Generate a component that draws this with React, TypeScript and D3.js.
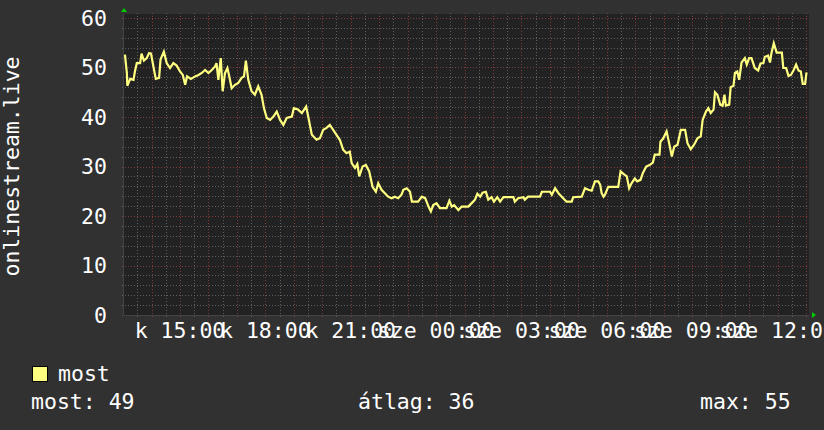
import React from 'react';
import * as d3 from 'd3';

// ---- data ----
// minutes after 13:00 (Tuesday) and viewer counts
const minutes = [4, 8, 9, 15, 22, 25, 29, 36, 39, 44, 50, 55, 59, 64, 69, 76, 79, 86, 92, 99, 106, 113, 120, 126, 131, 135, 143, 152, 159, 166, 173, 180, 187, 194, 197, 201, 206, 210, 215, 220, 224, 229, 236, 243, 250, 255, 259, 264, 271, 278, 285, 292, 297, 303, 310, 317, 324, 331, 338, 345, 356, 360, 369, 377, 386, 391, 398, 408, 415, 422, 429, 436, 443, 450, 457, 464, 471, 478, 482, 489, 494, 498, 505, 512, 519, 526, 533, 538, 545, 552, 559, 566, 573, 580, 587, 591, 598, 605, 609, 622, 630, 637, 644, 649, 654, 661, 668, 682, 688, 693, 698, 707, 714, 728, 735, 742, 747, 753, 758, 765, 770, 777, 782, 789, 795, 802, 823, 826, 833, 844, 847, 854, 879, 883, 900, 904, 911, 918, 928, 935, 946, 949, 967, 974, 981, 988, 995, 1002, 1006, 1009, 1013, 1016, 1023, 1044, 1049, 1055, 1062, 1067, 1072, 1079, 1084, 1091, 1096, 1103, 1110, 1117, 1121, 1131, 1133, 1139, 1146, 1152, 1157, 1162, 1169, 1176, 1185, 1190, 1197, 1204, 1211, 1218, 1222, 1229, 1234, 1239, 1245, 1248, 1253, 1259, 1264, 1268, 1271, 1278, 1281, 1287, 1290, 1295, 1299, 1304, 1311, 1315, 1320, 1325, 1332, 1339, 1344, 1350, 1353, 1360, 1364, 1367, 1372, 1378, 1389, 1392, 1398, 1403, 1408, 1414, 1419, 1424, 1429, 1433, 1438, 1441];
const viewers = [52.6, 48.9, 46.3, 47.7, 47.5, 49.2, 50.9, 50.9, 52.8, 51.4, 51.9, 52.9, 52.8, 50.2, 47.7, 47.9, 51.6, 53.2, 50.9, 49.9, 50.9, 50.4, 49.2, 48.5, 46.5, 48.2, 47.7, 48.2, 48.5, 48.9, 49.5, 48.9, 49.5, 50.2, 50.9, 47.5, 51.9, 45.2, 48.9, 49.9, 48.2, 45.8, 46.5, 46.9, 47.9, 48.2, 51.4, 47.5, 45.2, 44.5, 46.2, 44.5, 41.8, 39.8, 39.4, 40.1, 41.1, 39.4, 38.4, 39.8, 40.1, 41.8, 41.5, 40.8, 42.1, 39.8, 36.4, 35.4, 35.7, 37.4, 37.8, 38.4, 37.4, 36.4, 35.4, 33.4, 32.7, 33.0, 30.7, 29.7, 30.5, 28.0, 30.0, 30.3, 29.0, 25.9, 24.9, 26.6, 25.3, 24.6, 23.9, 23.6, 23.9, 23.6, 24.3, 25.3, 25.6, 24.9, 22.9, 22.9, 23.9, 23.6, 21.9, 20.9, 22.2, 22.6, 21.6, 21.6, 23.1, 21.9, 22.2, 21.2, 21.9, 21.9, 22.6, 23.3, 24.5, 23.9, 24.7, 24.9, 23.3, 23.8, 22.9, 23.8, 22.9, 23.8, 23.8, 22.9, 23.6, 23.8, 23.3, 23.9, 23.9, 24.9, 24.9, 24.3, 25.6, 24.6, 23.6, 22.9, 22.9, 23.8, 23.9, 25.6, 25.3, 25.1, 27.0, 27.0, 26.3, 24.6, 23.9, 24.3, 25.9, 25.9, 29.0, 28.5, 28.0, 25.6, 26.6, 27.6, 27.0, 27.3, 28.7, 30.0, 30.3, 30.8, 32.4, 32.4, 35.0, 35.7, 37.1, 34.4, 32.0, 34.0, 34.4, 37.4, 37.4, 34.7, 33.5, 34.4, 35.7, 36.1, 39.4, 41.1, 41.8, 40.8, 41.5, 45.0, 44.5, 42.5, 42.3, 44.5, 42.3, 42.5, 46.0, 46.3, 48.9, 49.2, 47.5, 51.0, 51.9, 50.6, 51.9, 51.9, 49.9, 49.4, 50.8, 50.9, 52.1, 52.4, 51.0, 52.9, 54.9, 53.0, 53.0, 49.9, 49.9, 48.3, 48.5, 49.5, 50.6, 49.4, 49.2, 46.7, 46.7, 49.0, 49.0];

const yTicks = [0, 10, 20, 30, 40, 50, 60];
const xLabelHours = [15, 18, 21, 24, 27, 30, 33, 36];
const xLabels = ['k 15:00', 'k 18:00', 'k 21:00', 'sze 00:00', 'sze 03:00', 'sze 06:00', 'sze 09:00', 'sze 12:00'];
const yTitle = 'onlinestream.live';
const legendName = 'most';
const statNames = ['most', 'átlag', 'max'];
const statValues = [49, 36, 55];

// ---- layout ----
const W = 824;
const H = 430;
const PL = 124;
const PR = 807;
const PT = 18;
const PB = 315;
const FONT = '"DejaVu Sans Mono", monospace';
const FS = 21.5;

const BG = '#313131';
const CANVAS = '#222222';
const MINOR = '#5e5e5e';
const MAJOR = '#803c3c';
const LINE = '#ffff80';

export default function App() {
  const base = new Date(2024, 0, 2, 13, 0, 0); // Tuesday 13:00
  const t0 = new Date(base.getTime() + 2 * 60000);
  const t1 = new Date(t0.getTime() + 24 * 3600000);
  const x = d3.scaleTime().domain([t0, t1]).range([PL, PR]);
  const y = d3.scaleLinear().domain([0, 60]).range([PB, PT]);

  const data = minutes.map((m, i) => ({ t: new Date(base.getTime() + m * 60000), v: viewers[i] }));
  const line = d3
    .line<{ t: Date; v: number }>()
    .x((d) => x(d.t))
    .y((d) => y(d.v));

  const minorX = d3.timeMinute.every(30)!.range(t0, t1).filter((d) => d.getMinutes() === 30);
  const majorX = d3.timeHour.range(t0, t1);
  const minorY = d3.range(2, 61, 2).filter((v) => v % 10 !== 0);
  const majorY = d3.range(0, 61, 10);

  return (
    <svg width={W} height={H} style={{ position: 'absolute', left: 0, top: 0 }} fontFamily={FONT}>
      <rect x={0} y={0} width={W} height={H} fill={BG} />
      <rect x={PL - 0.5} y={PT - 4} width={PR - PL + 2.5} height={PB - PT + 4} fill={CANVAS} />
      {/* minor grid */}
      {minorX.map((d, i) => (
        <line key={'mx' + i} x1={Math.round(x(d)) + 0.5} x2={Math.round(x(d)) + 0.5} y1={PT - 5} y2={PB + 2} stroke={MINOR} strokeDasharray="1,2" />
      ))}
      {minorY.map((v, i) => (
        <line key={'my' + i} x1={PL - 2} x2={PR + 2} y1={Math.round(y(v)) + 0.5} y2={Math.round(y(v)) + 0.5} stroke={MINOR} strokeDasharray="1,2" />
      ))}
      {/* major grid */}
      {majorX.map((d, i) => (
        <line key={'Mx' + i} x1={Math.round(x(d)) + 0.5} x2={Math.round(x(d)) + 0.5} y1={PT - 5} y2={PB + 3} stroke={MAJOR} strokeDasharray="1,2" />
      ))}
      {majorY.map((v, i) => (
        <line key={'My' + i} x1={PL - 2} x2={PR + 2} y1={Math.round(y(v)) + 0.5} y2={Math.round(y(v)) + 0.5} stroke={MAJOR} strokeDasharray="1,2" />
      ))}
      {/* axes */}
      <line x1={PL} x2={PR + 2} y1={PB + 0.5} y2={PB + 0.5} stroke="#444" />
      <line x1={PL - 0.5} x2={PL - 0.5} y1={PT - 4} y2={PB} stroke="#444" />
      <path d={`M${PL - 3},${PT - 6} L${PL + 3},${PT - 6} L${PL},${PT - 10} Z`} fill="#00cc00" />
      <path d={`M${PR + 5},${PB - 3} L${PR + 5},${PB + 3} L${PR + 9},${PB} Z`} fill="#00cc00" />
      {/* data line */}
      <path d={line(data) || ''} fill="none" stroke={LINE} strokeWidth={2.2} strokeLinejoin="miter" />
      {/* y tick labels */}
      {yTicks.map((v) => (
        <text key={'yt' + v} x={107} y={y(v) + 7.8} textAnchor="end" fill="#fff" fontSize={FS}>
          {v}
        </text>
      ))}
      {/* x labels */}
      {xLabelHours.map((h, i) => (
        <text key={'xl' + i} x={x(new Date(2024, 0, 2, h, 0, 0))} y={338} textAnchor="middle" fill="#fff" fontSize={FS}>
          {xLabels[i]}
        </text>
      ))}
      {/* y title */}
      <text transform={`translate(19,${(PT + PB) / 2}) rotate(-90)`} textAnchor="middle" fill="#fff" fontSize={FS}>
        {yTitle}
      </text>
      {/* legend */}
      <rect x={32.5} y={366.5} width={15} height={15} fill={LINE} stroke="#000" />
      <text x={58} y={381} fill="#fff" fontSize={FS}>
        {legendName}
      </text>
      <text x={31} y={409} fill="#fff" fontSize={FS}>{`${statNames[0]}: ${statValues[0]}`}</text>
      <text x={358} y={409} fill="#fff" fontSize={FS}>{`${statNames[1]}: ${statValues[1]}`}</text>
      <text x={700} y={409} fill="#fff" fontSize={FS}>{`${statNames[2]}: ${statValues[2]}`}</text>
    </svg>
  );
}
